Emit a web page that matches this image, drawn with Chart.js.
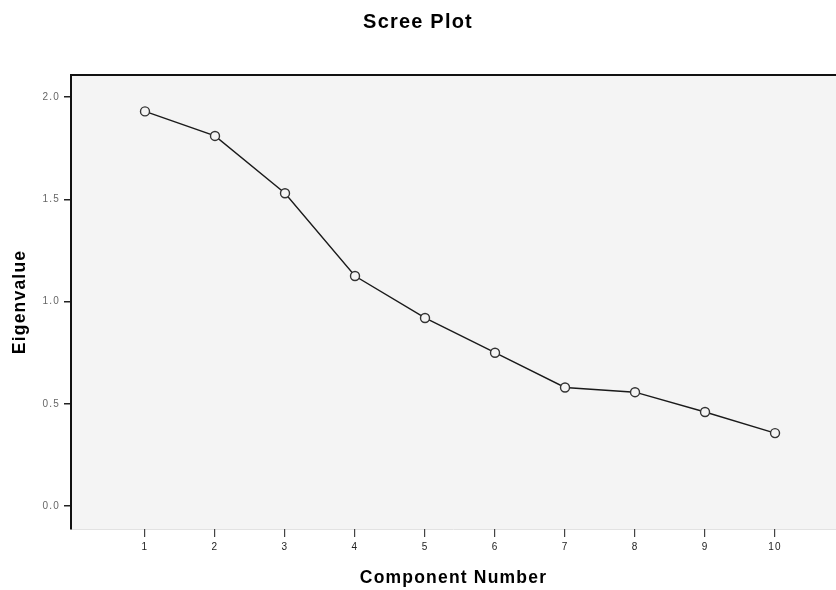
<!DOCTYPE html>
<html>
<head>
<meta charset="utf-8">
<script src="https://cdn.jsdelivr.net/npm/chart.js@4/dist/chart.umd.min.js"></script>
<style>
  html, body { margin: 0; padding: 0; background: #ffffff; }
  #wrap { width: 836px; height: 590px; }
</style>
</head>
<body>
<div id="wrap"><canvas id="c" width="836" height="590"></canvas></div>
<script>
const components = [1, 2, 3, 4, 5, 6, 7, 8, 9, 10];
const eigenvalues = [1.93, 1.81, 1.53, 1.125, 0.92, 0.75, 0.58, 0.557, 0.46, 0.357];
const yTickValues = [0.0, 0.5, 1.0, 1.5, 2.0];
const yTickLabels = ['0.0', '0.5', '1.0', '1.5', '2.0'];
const xTickValues = components;

const points = components.map((c, i) => ({ x: c, y: eigenvalues[i] }));

const FONT = 'Liberation Sans, Arial, sans-serif';

const plotFrame = {
  id: 'plotFrame',
  beforeDraw(chart) {
    const { ctx, chartArea: a } = chart;
    ctx.letterSpacing = '1.2px';
    ctx.save();
    ctx.fillStyle = '#f4f4f4';
    ctx.fillRect(a.left, a.top, a.right - a.left, a.bottom - a.top);
    ctx.strokeStyle = '#e2e2e2';
    ctx.lineWidth = 1;
    ctx.beginPath();
    ctx.moveTo(a.left, a.bottom + 0.5);
    ctx.lineTo(a.right, a.bottom + 0.5);
    ctx.stroke();
    ctx.restore();
  },
  afterDatasetsDraw(chart) {
    const { ctx, chartArea: a } = chart;
    ctx.save();
    ctx.strokeStyle = '#111';
    ctx.lineWidth = 2;
    ctx.beginPath();
    ctx.moveTo(a.left - 1, a.top);
    ctx.lineTo(a.right, a.top);
    ctx.stroke();
    ctx.restore();
  }
};

new Chart(document.getElementById('c'), {
  type: 'line',
  data: {
    datasets: [{
      data: points,
      borderColor: '#1a1a1a',
      borderWidth: 1.4,
      pointRadius: 4.5,
      pointBorderWidth: 1.4,
      pointBorderColor: '#333',
      pointBackgroundColor: 'rgba(244,244,244,1)',
      tension: 0,
      fill: false
    }]
  },
  options: {
    responsive: false,
    animation: false,
    layout: { autoPadding: false, padding: { left: 0, right: 0, top: 0, bottom: 0 } },
    plugins: {
      legend: { display: false },
      tooltip: { enabled: false },
      title: {
        display: true,
        text: 'Scree Plot',
        color: '#000',
        font: { family: FONT, size: 20, weight: 'bold' },
        padding: { top: 10, bottom: 41 }
      }
    },
    scales: {
      x: {
        type: 'linear',
        min: -0.057,
        max: 10.871,
        afterBuildTicks(scale) { scale.ticks = xTickValues.map(v => ({ value: v })); },
        afterFit(scale) { scale.height = 61; },
        grid: { drawOnChartArea: false, drawTicks: true, tickLength: 8, color: '#444', lineWidth: 1.2 },
        border: { display: false },
        ticks: {
          color: '#222',
          font: { family: FONT, size: 10 },
          padding: 4,
          maxRotation: 0,
          autoSkip: false,
          callback: (v) => String(v)
        },
        title: {
          display: true,
          text: 'Component Number',
          color: '#000',
          font: { family: FONT, size: 17.5, weight: 'bold' },
          padding: { top: 0, bottom: 1.5 }
        }
      },
      y: {
        type: 'linear',
        min: -0.112,
        max: 2.108,
        afterBuildTicks(scale) { scale.ticks = yTickValues.map(v => ({ value: v })); },
        afterFit(scale) { scale.width = 71; },
        grid: { drawOnChartArea: false, drawTicks: true, tickLength: 7, color: '#222', lineWidth: 1.5 },
        border: { display: true, color: '#111', width: 2 },
        ticks: {
          color: '#666',
          font: { family: FONT, size: 10 },
          padding: 4,
          autoSkip: false,
          callback: (v) => {
            const i = yTickValues.indexOf(v);
            return i >= 0 ? yTickLabels[i] : '';
          }
        },
        title: {
          display: true,
          text: 'Eigenvalue',
          color: '#000',
          font: { family: FONT, size: 17.5, weight: 'bold' },
          padding: { top: 9.5, bottom: 0 }
        }
      }
    }
  },
  plugins: [plotFrame]
});
</script>
</body>
</html>
